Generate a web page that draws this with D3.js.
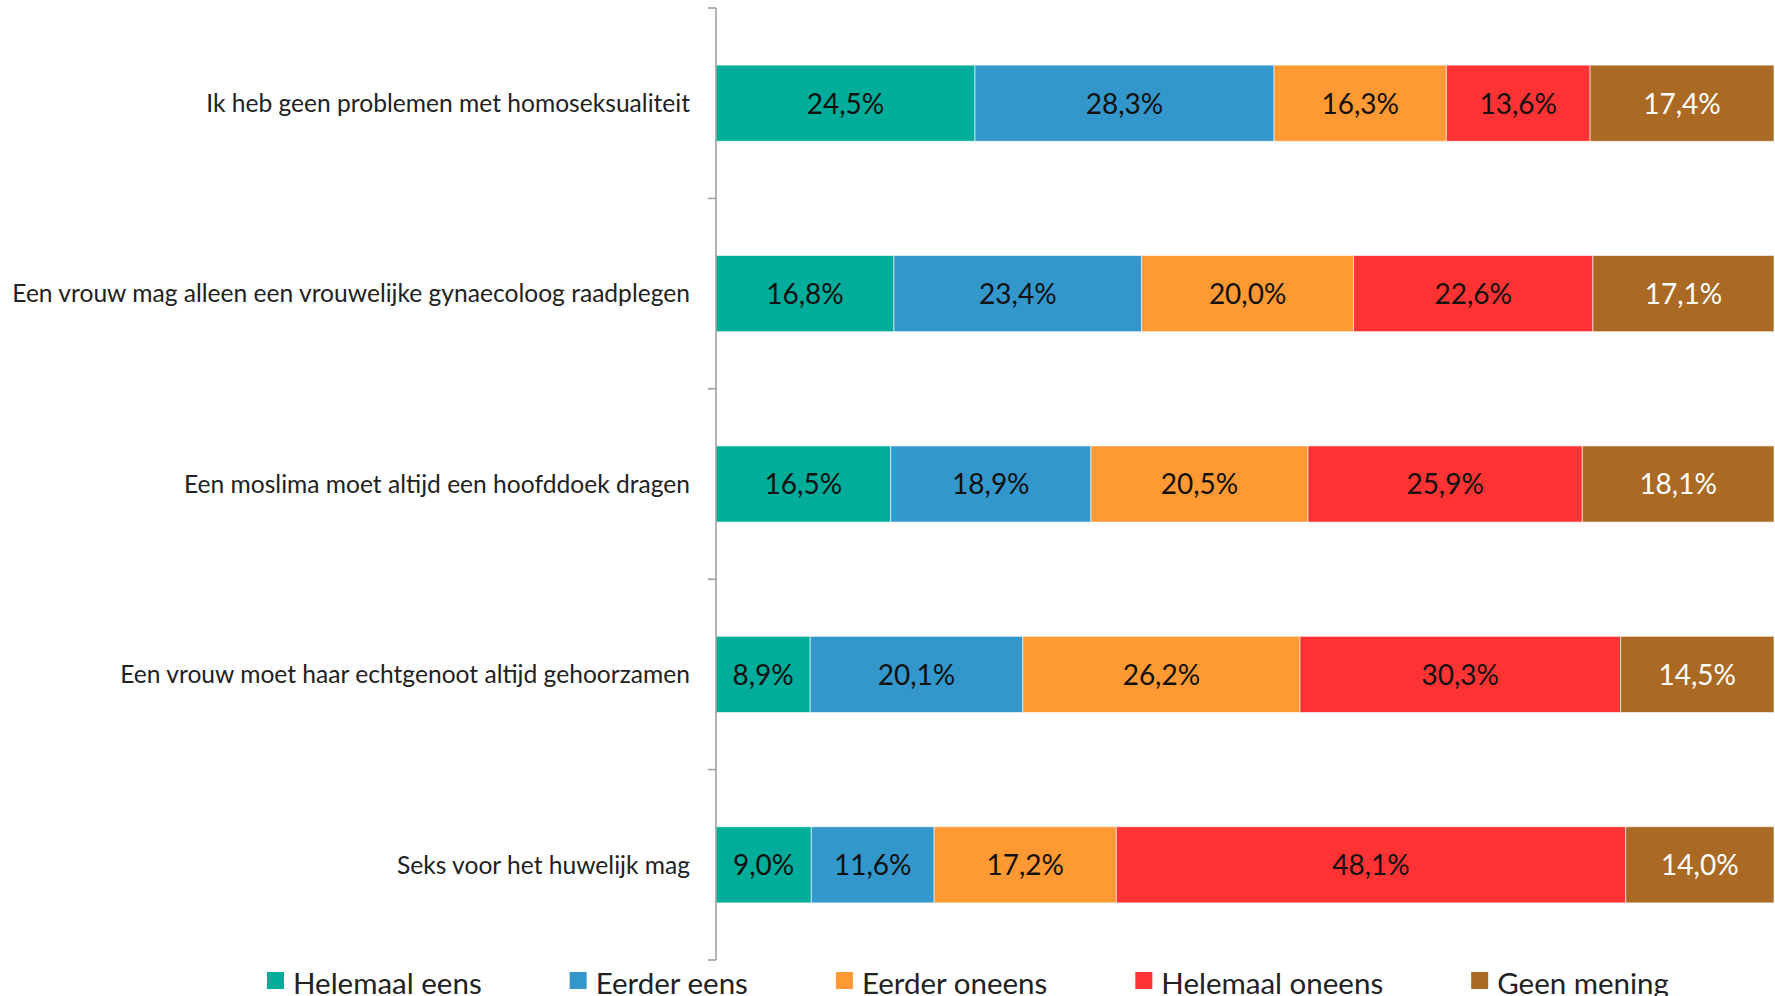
<!DOCTYPE html>
<html>
<head>
<meta charset="utf-8">
<script src="https://cdn.jsdelivr.net/npm/d3@7"></script>
<style>
  body { margin: 0; background: #fff; }
  text { font-family: Lato, "Open Sans", sans-serif; }
</style>
</head>
<body>
<svg id="chart" width="1775" height="996"></svg>
<script>
const statements = [
    "Ik heb geen problemen met homoseksualiteit",
    "Een vrouw mag alleen een vrouwelijke gynaecoloog raadplegen",
    "Een moslima moet altijd een hoofddoek dragen",
    "Een vrouw moet haar echtgenoot altijd gehoorzamen",
    "Seks voor het huwelijk mag"
]
const answers = ["Helemaal eens", "Eerder eens", "Eerder oneens", "Helemaal oneens", "Geen mening"]

const helemaalEens = [24.5, 16.8, 16.5, 8.9, 9.0]
const eerderEens = [28.3, 23.4, 18.9, 20.1, 11.6]
const eerderOneens = [16.3, 20.0, 20.5, 26.2, 17.2]
const helemaalOneens = [13.6, 22.6, 25.9, 30.3, 48.1]
const geenMening = [17.4, 17.1, 18.1, 14.5, 14.0]

const colors = ["#00ad9a", "#3397cc", "#ff9933", "#ff3333", "#aa6a24"]
const labelColors = ["#111", "#111", "#111", "#111", "#fff"]

const series = [helemaalEens, eerderEens, eerderOneens, helemaalOneens, geenMening]

const margin = { top: 8, right: 1, bottom: 36, left: 716 },
    width = 1775 - margin.left - margin.right,
    height = 996 - margin.top - margin.bottom;

// rows as objects, normalised to 100% like a 100% stacked bar
const rows = statements.map((s, i) =>
{
    const row = { statement: s };
    answers.forEach((a, j) => row[a] = series[j][i]);
    row.total = d3.sum(series, v => v[i]);
    return row;
});

const stack = d3.stack()
    .keys(answers)
    .value((d, key) => d[key] / d.total);

const stacked = stack(rows);

const x = d3.scaleLinear().domain([0, 1]).range([0, width]);
const y = d3.scaleBand()
    .domain(statements)
    .range([0, height])
    .paddingInner(0.6)
    .paddingOuter(0.3);

const fmt = v => d3.format(".1f")(v).replace(".", ",") + "%";

const svg = d3.select("#chart");
const g = svg.append("g")
    .attr("transform", "translate(" + margin.left + "," + margin.top + ")");

const layer = g.selectAll("g.layer")
    .data(stacked)
    .enter().append("g")
    .attr("class", "layer")
    .attr("fill", (d, i) => colors[i]);

layer.selectAll("rect")
    .data(d => d)
    .enter().append("rect")
    .attr("x", d => x(d[0]))
    .attr("y", d => y(d.data.statement))
    .attr("width", d => x(d[1]) - x(d[0]))
    .attr("height", y.bandwidth())
    .attr("stroke", "rgba(255,255,255,0.6)")
    .attr("stroke-width", 1);

layer.selectAll("text")
    .data((d, i) => d.map(p => ({ p: p, key: d.key, idx: i })))
    .enter().append("text")
    .attr("x", d => (x(d.p[0]) + x(d.p[1])) / 2)
    .attr("y", d => y(d.p.data.statement) + y.bandwidth() / 2)
    .attr("dy", "0.37em")
    .attr("text-anchor", "middle")
    .attr("fill", d => labelColors[d.idx])
    .style("font-size", "28px")
    .text(d => fmt(d.p.data[d.key]));

// category axis: only the line and the ticks between rows
const axisG = g.append("g").attr("class", "y-axis");
axisG.append("line")
    .attr("x1", 0).attr("x2", 0)
    .attr("y1", 0).attr("y2", height)
    .attr("stroke", "#999").attr("stroke-width", 1.5);

const step = y.step();
const tickYs = d3.range(statements.length + 1).map(i => i * step);
axisG.selectAll("line.tick")
    .data(tickYs)
    .enter().append("line")
    .attr("class", "tick")
    .attr("x1", -8).attr("x2", 0)
    .attr("y1", d => d).attr("y2", d => d)
    .attr("stroke", "#999").attr("stroke-width", 1.5);

axisG.selectAll("text")
    .data(statements)
    .enter().append("text")
    .attr("x", -26)
    .attr("y", d => y(d) + y.bandwidth() / 2)
    .attr("dy", "0.36em")
    .attr("text-anchor", "end")
    .attr("fill", "#222")
    .style("font-size", "24.6px")
    .text(d => d);

// legend, laid out one after the other
const legend = svg.append("g").attr("class", "legend");
let lx = 267;
answers.forEach((a, i) =>
{
    const item = legend.append("g").attr("transform", "translate(" + lx + ",0)");
    item.append("rect")
        .attr("x", 0).attr("y", 972)
        .attr("width", 17).attr("height", 17)
        .attr("fill", colors[i]);
    const t = item.append("text")
        .attr("x", 26).attr("y", 994)
        .attr("fill", "#222")
        .style("font-size", "29.5px")
        .text(a);
    lx += 26 + t.node().getComputedTextLength() + 88;
});
</script>
</body>
</html>
